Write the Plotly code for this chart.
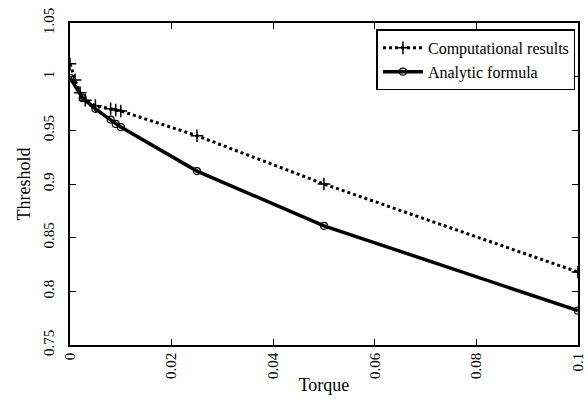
import plotly.graph_objects as go

comp_x = [0, 0.001, 0.002, 0.003, 0.005, 0.008, 0.009, 0.01, 0.025, 0.05, 0.1]
comp_y = [1.012, 0.997, 0.985, 0.978, 0.973, 0.970, 0.969, 0.968, 0.945, 0.900, 0.818]

anal_x = [0, 0.0025, 0.005, 0.008, 0.009, 0.01, 0.025, 0.05, 0.1]
anal_y = [0.999, 0.980, 0.970, 0.960, 0.956, 0.953, 0.912, 0.861, 0.782]

x_ticks = [0, 0.02, 0.04, 0.06, 0.08, 0.1]
x_labels = ["0", "0.02", "0.04", "0.06", "0.08", "0.1"]
y_ticks = [0.75, 0.8, 0.85, 0.9, 0.95, 1, 1.05]
y_labels = ["0.75", "0.8", "0.85", "0.9", "0.95", "1", "1.05"]

font = "Liberation Serif, Times New Roman, serif"

fig = go.Figure()
fig.add_trace(go.Scatter(
    x=comp_x, y=comp_y, mode="lines+markers", name="Computational results",
    line=dict(color="black", width=3, dash="dot"),
    marker=dict(symbol="cross-thin", size=9, line=dict(color="black", width=1.5)),
))
fig.add_trace(go.Scatter(
    x=anal_x, y=anal_y, mode="lines+markers", name="Analytic formula",
    line=dict(color="black", width=3.5),
    marker=dict(symbol="circle-open", size=7, color="black", line=dict(color="black", width=1.2)),
))

fig.update_layout(
    width=588, height=405,
    margin=dict(l=70, r=10, t=23, b=60),
    paper_bgcolor="white", plot_bgcolor="white",
    font=dict(family=font, size=15, color="black"),
    showlegend=True,
    legend=dict(x=0.995, y=0.98, xanchor="right", yanchor="top",
                bordercolor="black", borderwidth=1.5, bgcolor="white",
                font=dict(family=font, size=16), tracegroupgap=0,
                itemwidth=40),
    xaxis=dict(range=[0, 0.10002], tickvals=x_ticks, ticktext=x_labels, tickangle=-90,
               ticks="inside", ticklen=6, tickcolor="black", mirror="ticks",
               ticklabeloverflow="allow", automargin=False,
               showline=True, linecolor="black", linewidth=1.5, showgrid=False,
               zeroline=False,
               title=dict(text="Torque", font=dict(family=font, size=18), standoff=0)),
    yaxis=dict(range=[0.75, 1.05], tickvals=y_ticks, ticktext=y_labels, tickangle=-90,
               ticks="inside", ticklen=6, tickcolor="black", mirror="ticks",
               ticklabeloverflow="allow", automargin=False,
               showline=True, linecolor="black", linewidth=1.5, showgrid=False,
               zeroline=False, ticklabelstandoff=8,
               title=dict(text="Threshold", font=dict(family=font, size=18), standoff=6)),
)

fig.write_html("out.html")
